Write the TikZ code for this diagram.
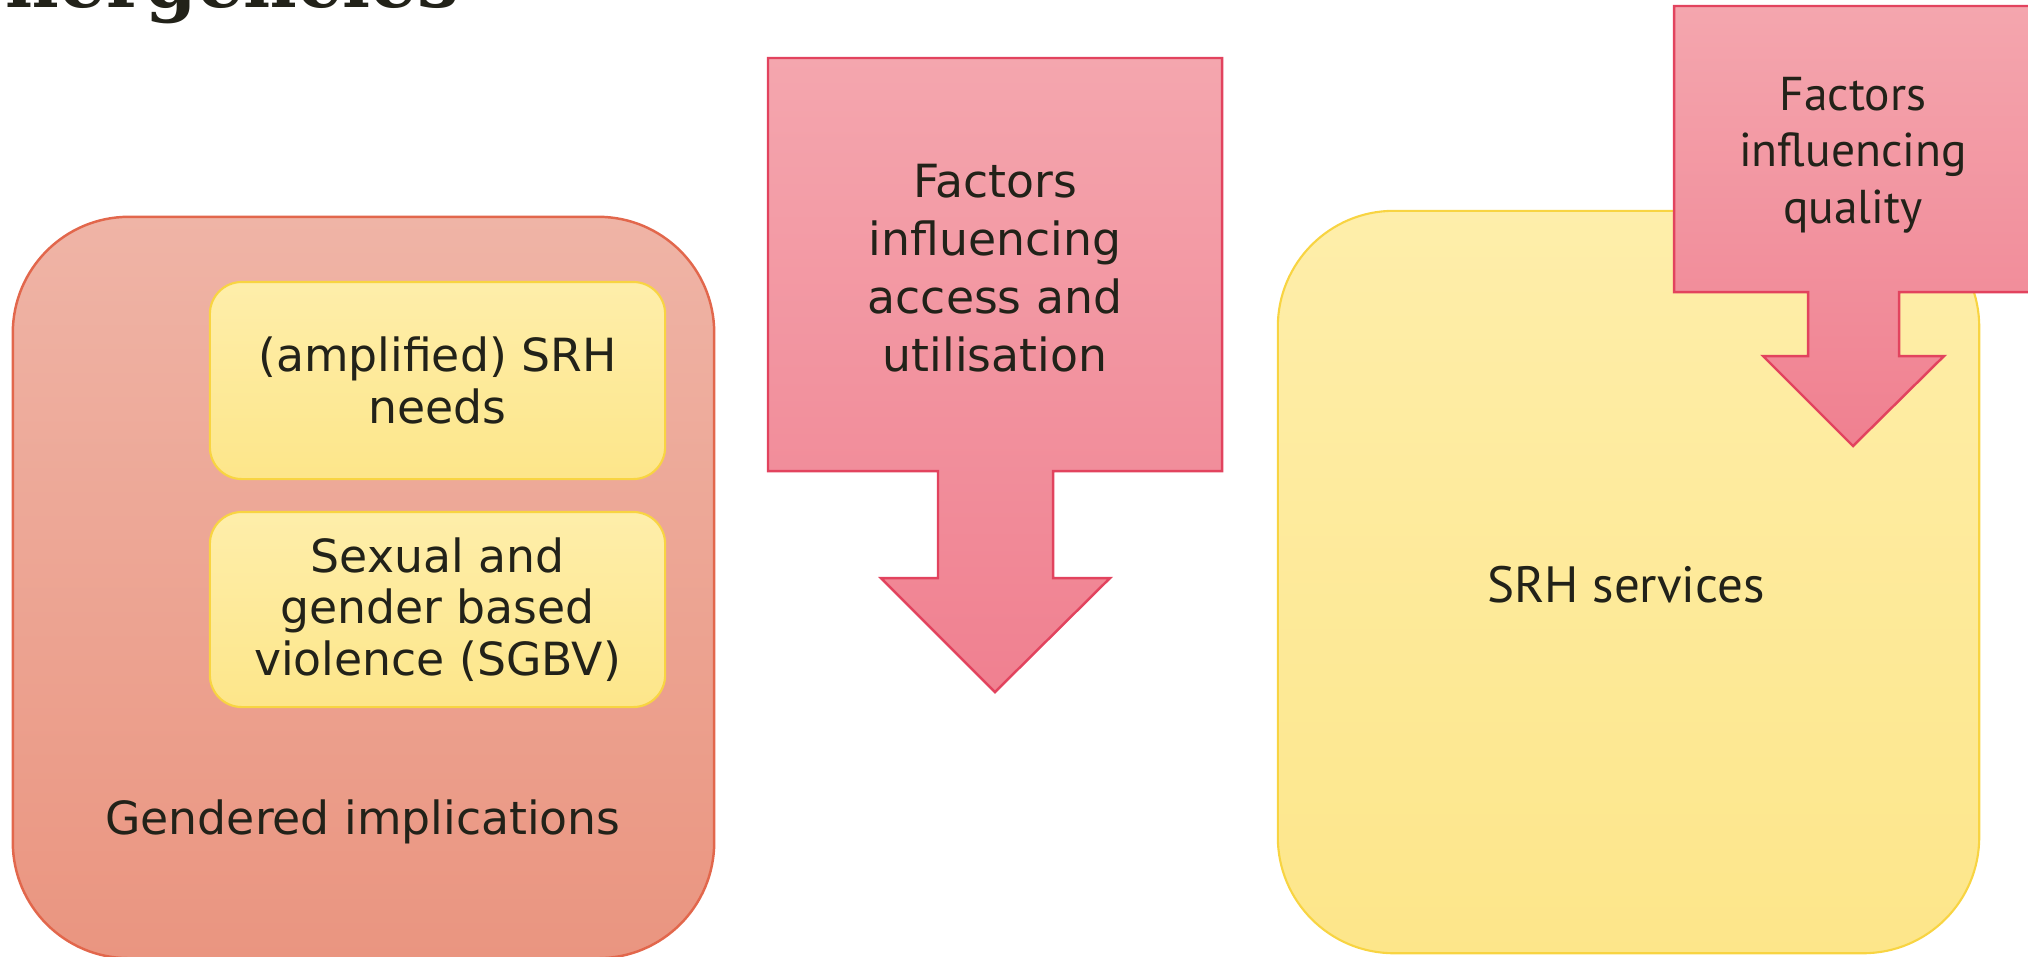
\documentclass[tikz,border=0pt]{standalone}
\usepackage{fontspec}
\setmainfont{DejaVu Sans}
\newfontfamily\narrowfont{PT Sans}
\newfontfamily\headfont{DejaVu Serif}
\usepackage{xcolor}
\usepackage{tikz}
\usetikzlibrary{positioning}
\definecolor{ink}{HTML}{222219}
\definecolor{salmontop}{HTML}{EFB4A6}
\definecolor{salmonbot}{HTML}{EA9580}
\definecolor{salmonedge}{HTML}{E2674C}
\definecolor{yeltop}{HTML}{FEEEAA}
\definecolor{yelbot}{HTML}{FDE68A}
\definecolor{yeledge}{HTML}{F8D442}
\definecolor{pinktop}{HTML}{F4A6AE}
\definecolor{pinkbot}{HTML}{F08090}
\definecolor{pinkedge}{HTML}{E2435E}
\tikzset{
  outerbox/.style={draw=salmonedge, line width=0.7pt, top color=salmontop, bottom color=salmonbot, rounded corners=1.16cm},
  needbox/.style={draw=yeledge, line width=0.6pt, top color=yeltop, bottom color=yelbot, rounded corners=0.32cm},
  servicebox/.style={draw=yeledge, line width=0.6pt, top color=yeltop, bottom color=yelbot, rounded corners=1.16cm},
  factor/.style={draw=pinkedge, line width=0.7pt, top color=pinktop, bottom color=pinkbot},
  lab/.style={text=ink, align=center, inner sep=0pt, font=\fontsize{13}{16.5}\selectfont},
  tightlab/.style={lab, font=\fontsize{13}{14.6}\selectfont},
  narrowlab/.style={text=ink, align=center, inner sep=0pt, font=\narrowfont\fontsize{13.5}{16}\selectfont},
}

\begin{document}
\begin{tikzpicture}[x=0.01cm, y=-0.01cm]
\useasboundingbox (0,0) rectangle (2028,956);
\clip (0,0) rectangle (2028,956);
% cut-off heading
\node[anchor=base east, inner sep=0pt, text=ink, font=\headfont\bfseries\fontsize{21}{24}\selectfont] (title) at (460,7) {nergencies};
% left block
\node[outerbox, minimum width=7.01cm, minimum height=7.41cm] (gender) at (363.5,587.5) {};
\node[needbox, minimum width=4.55cm, minimum height=1.97cm, tightlab] (needs) at (437.5,380.5) {(amplified) SRH\\needs};
\node[needbox, minimum width=4.55cm, minimum height=1.95cm, tightlab] (sgbv) at (437.5,609.5) {Sexual and\\gender based\\violence (SGBV)};
\node[lab] (genlab) at (363,822) {Gendered implications};
% access arrow
\draw[factor] (768,58) -- (1222,58) -- (1222,471) -- (1053,471) -- (1053,578) -- (1110,578)
  -- (995,692) -- (881,578) -- (938,578) -- (938,471) -- (768,471) -- cycle;
\node[lab] (access) at (995,268) {Factors\\influencing\\access and\\utilisation};
% services and quality arrow
\node[servicebox, minimum width=7.01cm, minimum height=7.42cm] (srh) at (1628.5,582) {};
\node[narrowlab, font=\narrowfont\fontsize{14.5}{17}\selectfont] (srhlab) at (1626,585) {SRH services};
\draw[factor] (1674,6) -- (2034,6) -- (2034,292) -- (1899,292) -- (1899,356) -- (1944,356)
  -- (1853,446) -- (1763,356) -- (1808,356) -- (1808,292) -- (1674,292) -- cycle;
\node[narrowlab] (quality) at (1853,155) {Factors\\influencing\\quality};
\end{tikzpicture}
\end{document}
